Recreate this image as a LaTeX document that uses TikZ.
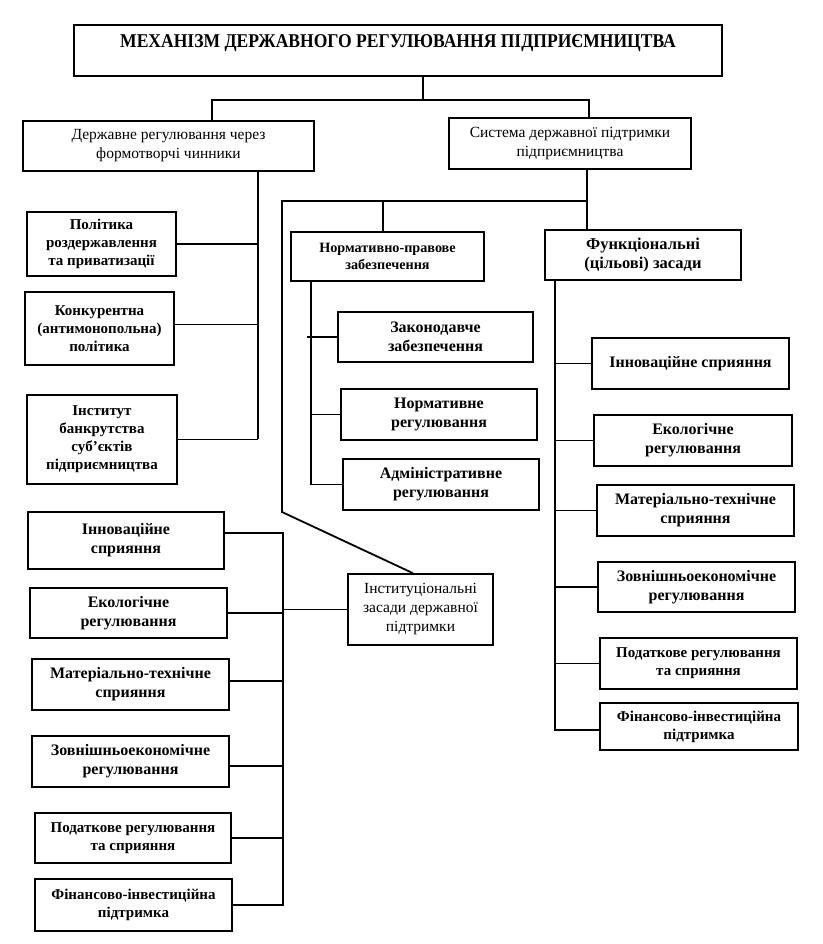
\documentclass[tikz,border=0pt]{standalone}
\usepackage{fontspec}
\setmainfont{Liberation Serif}
\newfontfamily\titlefont[FakeStretch=0.9]{Liberation Serif}
\begin{document}
\begin{tikzpicture}[x=1pt,y=-1pt,
  box/.style={draw,line width=1.6pt,align=center,inner sep=2pt,font=\fontsize{15}{18}\selectfont\bfseries},
  big/.style={font=\fontsize{16}{19}\selectfont\bfseries},
  reg/.style={font=\fontsize{15.5}{19}\selectfont},
  small/.style={font=\fontsize{14.2}{17}\selectfont\bfseries},
  conn/.style={line width=1.8pt}]
\useasboundingbox (0,0) rectangle (822,944);

% boxes
\node[box,minimum width=648pt,minimum height=51pt,text height=14pt,text depth=19pt,
      font=\fontsize{19.5}{22}\selectfont\titlefont\bfseries] (title) at (398,50.5)
      {МЕХАНІЗМ ДЕРЖАВНОГО РЕГУЛЮВАННЯ ПІДПРИЄМНИЦТВА};
\node[box,reg,minimum width=291pt,minimum height=50pt] (gov) at (168.5,146) {Державне регулювання через\\формотворчі чинники};
\node[box,reg,minimum width=242pt,minimum height=51pt] (sys) at (570,143.5) {Система державної підтримки\\підприємництва};

\node[box,minimum width=149pt,minimum height=64pt] (Pol) at (101.5,244) {Політика\\роздержавлення\\та приватизації};
\node[box,minimum width=149pt,minimum height=73pt] (Kon) at (99.5,328.5) {Конкурентна\\(антимонопольна)\\політика};
\node[box,minimum width=150pt,minimum height=89pt] (Inst) at (102,439.5) {Інститут\\банкрутства\\суб’єктів\\підприємництва};

\node[box,small,minimum width=193pt,minimum height=49pt] (NP) at (387.5,256.5) {Нормативно-правове\\забезпечення};
\node[box,font=\fontsize{16.5}{19}\selectfont\bfseries,minimum width=196pt,minimum height=50pt] (Fun) at (643,255) {Функціональні\\(цільові) засади};

\node[box,big,minimum width=195pt,minimum height=50pt] (Zak) at (435.5,337) {Законодавче\\забезпечення};
\node[box,big,minimum width=196pt,minimum height=51pt] (Nor) at (439,414.5) {Нормативне\\регулювання};
\node[box,big,minimum width=196pt,minimum height=51pt] (Adm) at (441,484.5) {Адміністративне\\регулювання};

\node[box,big,minimum width=197pt,minimum height=51pt] (rIn) at (690.5,363.5) {Інноваційне сприяння};
\node[box,big,minimum width=198pt,minimum height=51pt] (rEk) at (693,440.5) {Екологічне\\регулювання};
\node[box,big,minimum width=197pt,minimum height=51pt] (rMa) at (695.5,510.5) {Матеріально-технічне\\сприяння};
\node[box,big,minimum width=197pt,minimum height=50pt] (rZo) at (696.5,587) {Зовнішньоекономічне\\регулювання};
\node[box,minimum width=197pt,minimum height=51pt] (rPo) at (698.5,663.5) {Податкове регулювання\\та сприяння};
\node[box,minimum width=198pt,minimum height=47pt] (rFi) at (699,726.5) {Фінансово-інвестиційна\\підтримка};

\node[box,reg,minimum width=145pt,minimum height=71pt] (Ins) at (420.5,609.5) {Інституціональні\\засади державної\\підтримки};

\node[box,big,minimum width=196pt,minimum height=57pt] (lIn) at (126,540.5) {Інноваційне\\сприяння};
\node[box,big,minimum width=197pt,minimum height=50pt] (lEk) at (128.5,613) {Екологічне\\регулювання};
\node[box,big,minimum width=197pt,minimum height=51pt] (lMa) at (130.5,684.5) {Матеріально-технічне\\сприяння};
\node[box,big,minimum width=197pt,minimum height=51pt] (lZo) at (130.5,761.5) {Зовнішньоекономічне\\регулювання};
\node[box,minimum width=196pt,minimum height=50pt] (lPo) at (133,838) {Податкове регулювання\\та сприяння};
\node[box,minimum width=197pt,minimum height=52pt] (lFi) at (133.5,905) {Фінансово-інвестиційна\\підтримка};

% junction coordinates
\coordinate (t0) at (423,100);
\coordinate (t1) at (212,100);
\coordinate (t2) at (589,100);
\coordinate (g1) at (258,439);
\coordinate (s1) at (587,201);
\coordinate (s0) at (282,201);
\coordinate (d1) at (282,512);
\coordinate (d2) at (413,0);
\coordinate (n1) at (383,201);
\coordinate (p1) at (311,0);
\coordinate (p0) at (307,0);
\coordinate (f1) at (555,0);
\coordinate (b1) at (283,0);

% top level
\draw[conn] (title.south -| t0) -- (t0);
\draw[conn] (t1 |- gov.north) -- (t1) -- (t2) -- (t2 |- sys.north);

% left group
\draw[conn] (gov.south -| g1) -- (g1);
\draw[conn] (Pol.east) -- (Pol.east -| g1);
\draw[conn] ([yshift=4pt]Kon.east) -- ([yshift=4pt]Kon.east -| g1);
\draw[conn] (Inst.east) -- (Inst.east -| g1);

% support system
\draw[conn] (sys.south -| s1) -- (s1 |- Fun.north);
\draw[conn] (s1) -- (s0) -- (d1) -- (d2 |- Ins.north);
\draw[conn] (n1) -- (n1 |- NP.north);

% normative-legal
\draw[conn] (NP.south -| p1) |- (Adm.west);
\draw[conn] (p0 |- Zak.west) -- (Zak.west);
\draw[conn] (Nor.west -| p1) -- (Nor.west);

% functional
\draw[conn] (Fun.south -| f1) |- ([yshift=-3.5pt]rFi.west);
\draw[conn] (rIn.west -| f1) -- (rIn.west);
\draw[conn] (rEk.west -| f1) -- (rEk.west);
\draw[conn] (rMa.west -| f1) -- (rMa.west);
\draw[conn] (rZo.west -| f1) -- (rZo.west);
\draw[conn] (rPo.west -| f1) -- (rPo.west);

% institutional
\draw[conn] ([yshift=7.5pt]lIn.east) -| (b1 |- lFi.east) -- (lFi.east);
\draw[conn] (lEk.east) -- (lEk.east -| b1);
\draw[conn] ([yshift=3.5pt]lMa.east) -- ([yshift=3.5pt]lMa.east -| b1);
\draw[conn] ([yshift=-4.5pt]lZo.east) -- ([yshift=-4.5pt]lZo.east -| b1);
\draw[conn] (lPo.east) -- (lPo.east -| b1);
\draw[conn] (Ins.west) -- (Ins.west -| b1);
\end{tikzpicture}
\end{document}
